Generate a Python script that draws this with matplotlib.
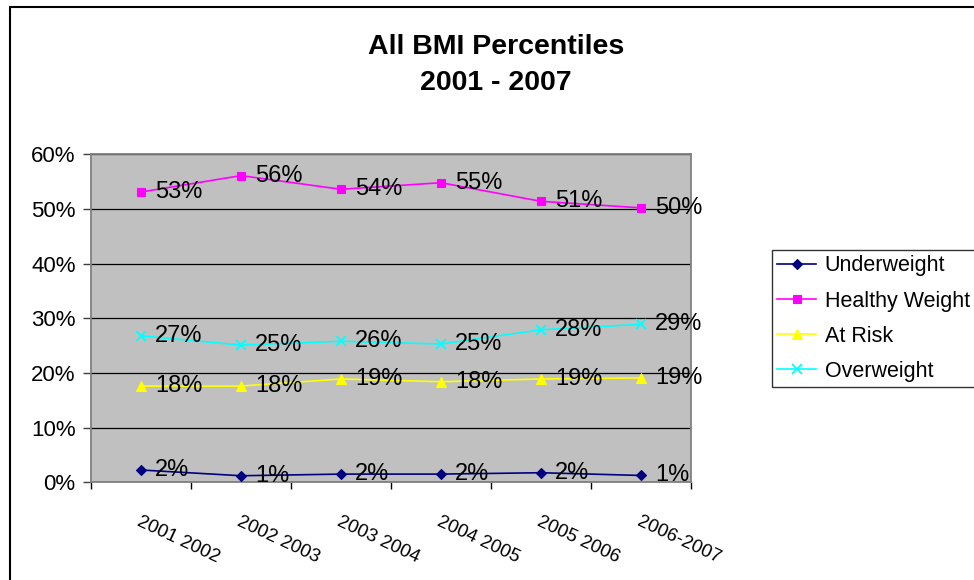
import matplotlib
matplotlib.use('Agg')
import matplotlib.pyplot as plt
import matplotlib.patches as patches
import numpy as np
from matplotlib.ticker import PercentFormatter

plt.rcParams['font.family'] = ['Liberation Sans', 'DejaVu Sans']

years = ['2001 2002', '2002 2003', '2003 2004', '2004 2005', '2005 2006', '2006-2007']
underweight = [2.25, 1.2, 1.5, 1.5, 1.75, 1.25]
healthy = [53.1, 56.1, 53.6, 54.8, 51.4, 50.2]
at_risk = [17.6, 17.6, 18.9, 18.4, 18.9, 19.1]
overweight = [26.8, 25.1, 25.8, 25.3, 27.9, 28.9]

series = [
    ('Underweight', underweight, '#000080', 'D', 5),
    ('Healthy Weight', healthy, '#FF00FF', 's', 5.5),
    ('At Risk', at_risk, '#FFFF00', '^', 6.5),
    ('Overweight', overweight, '#00FFFF', 'x', 6.5),
]

W, H = 974, 580
fig = plt.figure(figsize=(W / 100, H / 100), dpi=100)
fig.patch.set_facecolor('white')

# outer chart frame (clipped by the figure on right/bottom)
frame = patches.Rectangle((10 / W, -0.1), 2, (H - 7) / H + 0.1,
                          transform=fig.transFigure, fill=False,
                          edgecolor='black', linewidth=1.5)
fig.add_artist(frame)

ax = fig.add_axes([91 / W, (H - 482.3) / H, 600 / W, 328 / H])
ax.set_facecolor('#C0C0C0')

x = np.arange(len(years))
for name, vals, color, marker, ms in series:
    ax.plot(x, vals, color=color, marker=marker, markersize=ms, linewidth=1.2,
            markeredgewidth=1.3 if marker == 'x' else 0.8, label=name, zorder=3)
    for xi, v in zip(x, vals):
        ax.annotate(f'{round(v):.0f}%', (xi, v), xytext=(10, 0), textcoords='offset points',
                    ha='left', va='center', fontsize=17, color='black', zorder=4)

ax.set_xlim(-0.5, len(years) - 0.5)
ax.set_ylim(0, 60)
ax.set_yticks(np.arange(0, 61, 10))
ax.yaxis.set_major_formatter(PercentFormatter(decimals=0))
ax.grid(axis='y', color='black', linewidth=0.9, zorder=1)
ax.set_axisbelow(True)

ax.set_xticks(np.arange(-0.5, len(years), 1))
ax.set_xticklabels([])
ax.set_xticks(x, years, minor=True)
ax.tick_params(axis='x', which='major', direction='out', length=5, width=1, color='black')
ax.tick_params(axis='x', which='minor', length=0, pad=22, labelsize=13.5)
for lab in ax.get_xticklabels(minor=True):
    lab.set_rotation(-25)
    lab.set_rotation_mode('anchor')
    lab.set_ha('left')
    lab.set_va('top')
ax.tick_params(axis='y', direction='out', length=6, width=1, color='#404040', labelsize=16, pad=5)

for s in ax.spines.values():
    s.set_color('#808080')
    s.set_linewidth(1.3)

fig.text(496 / W, 1 - 47 / H, 'All BMI Percentiles', ha='center', va='center',
         fontsize=20.5, fontweight='bold')
fig.text(496 / W, 1 - 83 / H, '2001 - 2007', ha='center', va='center',
         fontsize=20.5, fontweight='bold')

leg = fig.legend(loc='upper left', bbox_to_anchor=(772 / W, 1 - 250 / H),
                 frameon=True, fancybox=False, shadow=False, fontsize=15.5,
                 handlelength=1.8, handletextpad=0.4, borderpad=0.25,
                 labelspacing=0.66, borderaxespad=0)
leg.get_frame().set_edgecolor('black')
leg.get_frame().set_linewidth(1.0)

fig.savefig('out.png', dpi=100)
